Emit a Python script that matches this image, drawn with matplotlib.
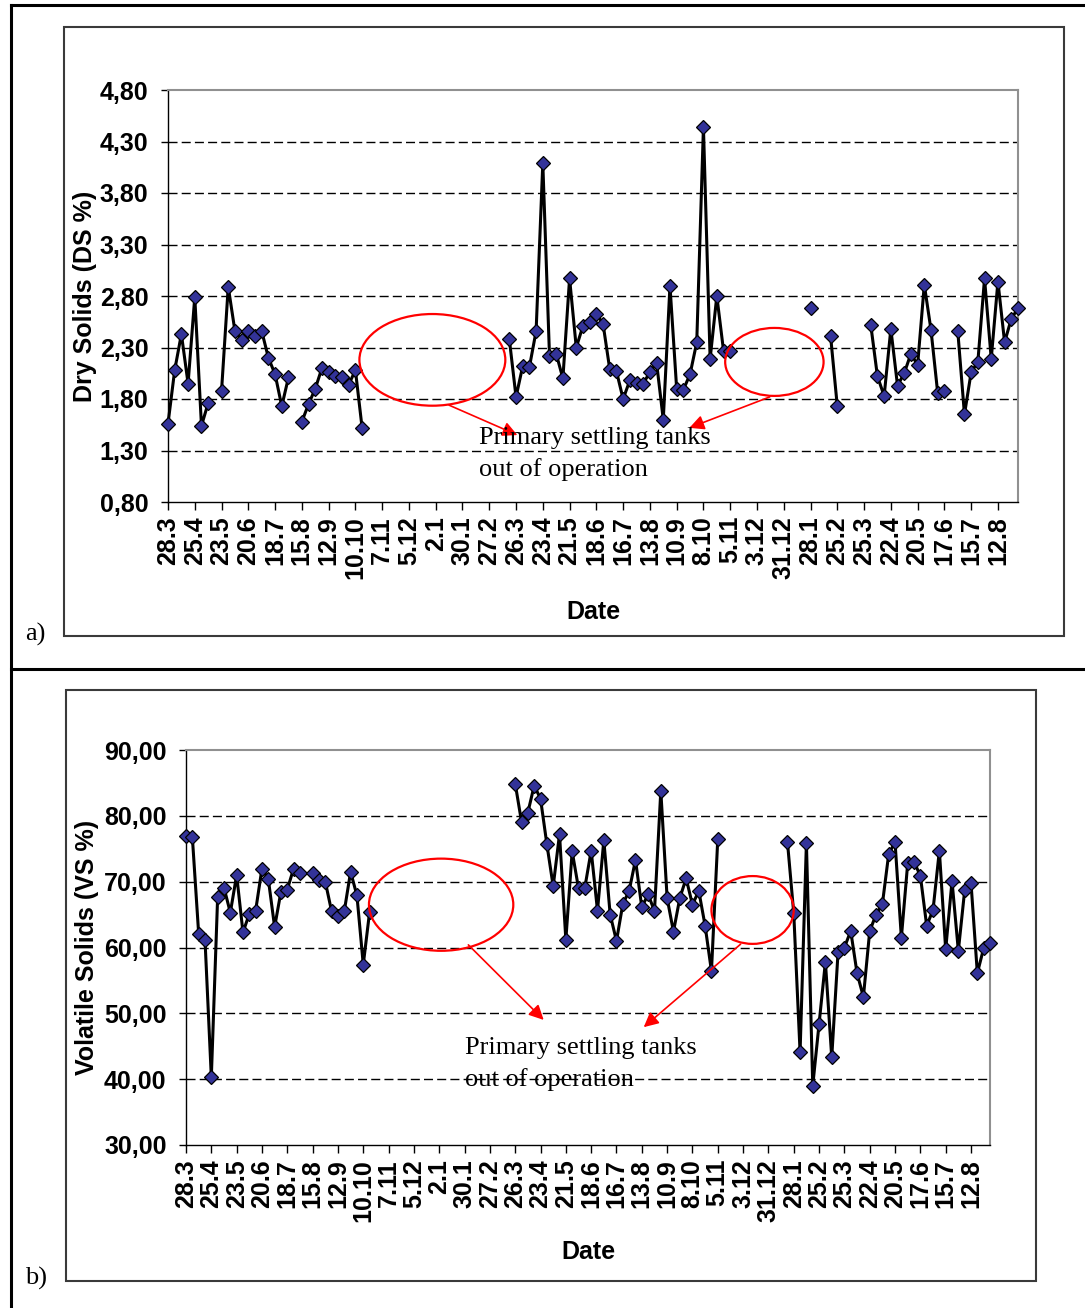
import numpy as np
import matplotlib
matplotlib.use("Agg")
import matplotlib.pyplot as plt
from matplotlib.patches import Ellipse, Rectangle
from matplotlib.lines import Line2D

nan = np.nan

# date labels, one every 4 weekly samples
date_labels = ["28.3", "25.4", "23.5", "20.6", "18.7", "15.8", "12.9", "10.10",
               "7.11", "5.12", "2.1", "30.1", "27.2", "26.3", "23.4", "21.5",
               "18.6", "16.7", "13.8", "10.9", "8.10", "5.11", "3.12", "31.12",
               "28.1", "25.2", "25.3", "22.4", "20.5", "17.6", "15.7", "12.8"]

# dry solids (DS %), weekly, nan = no sample
ds_values = [1.56, 2.08, 2.43, 1.95, 2.79, 1.54, 1.76, nan,
             1.88, 2.89, 2.46, 2.37, 2.46, 2.41, 2.46, 2.20,
             2.04, 1.73, 2.01, nan, 1.58, 1.75, 1.90, 2.10,
             2.06, 2.02, 2.01, 1.94, 2.08, 1.52, nan, nan,
             nan, nan, nan, nan, nan, nan, nan, nan,
             nan, nan, nan, nan, nan, nan, nan, nan,
             nan, nan, nan, 2.38, 1.82, 2.12, 2.11, 2.46,
             4.09, 2.22, 2.24, 2.00, 2.97, 2.30, 2.51, 2.55,
             2.63, 2.53, 2.09, 2.07, 1.80, 1.98, 1.96, 1.95,
             2.06, 2.15, 1.60, 2.90, 1.90, 1.89, 2.04, 2.35,
             4.44, 2.19, 2.80, 2.27, 2.27, nan, nan, nan,
             nan, nan, nan, nan, nan, nan, nan, nan,
             2.68, nan, nan, 2.41, 1.73, nan, nan, nan,
             nan, 2.52, 2.02, 1.83, 2.48, 1.93, 2.05, 2.24,
             2.13, 2.91, 2.47, 1.86, 1.88, nan, 2.46, 1.65,
             2.06, 2.16, 2.97, 2.19, 2.94, 2.35, 2.58, 2.68]

# volatile solids (VS %)
vs_values = [77.0, 76.8, 62.1, 61.2, 40.3, 67.7, 69.1, 65.3,
             71.0, 62.3, 65.1, 65.6, 72.0, 70.4, 63.1, 68.5,
             68.8, 72.0, 71.3, nan, 71.3, 70.3, 70.0, 65.5,
             64.8, 65.5, 71.5, 67.9, 57.4, 65.4, nan, nan,
             nan, nan, nan, nan, nan, nan, nan, nan,
             nan, nan, nan, nan, nan, nan, nan, nan,
             nan, nan, nan, nan, 84.9, 79.1, 80.5, 84.6,
             82.6, 75.7, 69.3, 77.2, 61.2, 74.6, 69.0, 69.1,
             74.7, 65.6, 76.3, 65.0, 61.0, 66.6, 68.6, 73.3,
             66.1, 68.1, 65.5, 83.8, 67.5, 62.4, 67.5, 70.5,
             66.5, 68.6, 63.3, 56.4, 76.5, nan, nan, nan,
             nan, nan, nan, nan, nan, nan, nan, 76.1,
             65.2, 44.1, 75.9, 39.0, 48.4, 57.8, 43.3, 59.3,
             60.0, 62.5, 56.1, 52.5, 62.5, 65.0, 66.6, 74.2,
             76.0, 61.5, 72.8, 73.0, 70.9, 63.3, 65.7, 74.7,
             59.7, 70.1, 59.5, 68.7, 69.8, 56.1, 59.9, 60.7]

ds_ticks = [0.8, 1.3, 1.8, 2.3, 2.8, 3.3, 3.8, 4.3, 4.8]
ds_ticklabels = ["0,80", "1,30", "1,80", "2,30", "2,80", "3,30", "3,80", "4,30", "4,80"]
vs_ticks = [30, 40, 50, 60, 70, 80, 90]
vs_ticklabels = ["30,00", "40,00", "50,00", "60,00", "70,00", "80,00", "90,00"]

note = "Primary settling tanks\nout of operation"

W, H = 1085, 1308
fig = plt.figure(figsize=(W / 100, H / 100), dpi=100)
fig.patch.set_facecolor("white")

SANS = "Liberation Sans"
SERIF = "Liberation Serif"
FS = 18


def px_box(left, top, right, bottom):
    return [left / W, 1 - bottom / H, (right - left) / W, (bottom - top) / H]


def fig_line(x0, y0, x1, y1, lw):
    fig.add_artist(Line2D([x0 / W, x1 / W], [1 - y0 / H, 1 - y1 / H],
                          transform=fig.transFigure, color="black", lw=lw))


def fig_rect(left, top, right, bottom):
    fig.add_artist(Rectangle((left / W, 1 - bottom / H), (right - left) / W,
                             (bottom - top) / H, transform=fig.transFigure,
                             fill=False, edgecolor="#3a3a3a", lw=1.5))


# outer table frame
fig_line(11, 5, 1085, 5, 2.2)
fig_line(11, 5, 11, 1308, 2.2)
fig_line(11, 669, 1085, 669, 2.2)
# chart area frames
fig_rect(64, 27, 1064, 636)
fig_rect(66, 690, 1036, 1281)

fig.text(25 / W, 1 - 634 / H, "a)", family=SERIF, fontsize=19, ha="left", va="center")
fig.text(25 / W, 1 - 1278 / H, "b)", family=SERIF, fontsize=19, ha="left", va="center")


def draw_panel(ax, values, yticks, yticklabels, ylabel, ylab_x, date_y):
    x = np.arange(len(values))
    ax.plot(x, values, color="black", lw=2.2, marker="D", markersize=7,
            markerfacecolor="#333399", markeredgecolor="black", markeredgewidth=0.9,
            zorder=3, clip_on=False)
    ax.set_xlim(0, len(values) - 1)
    ax.set_ylim(yticks[0], yticks[-1])
    ax.set_yticks(yticks)
    ax.set_yticklabels(yticklabels, family=SANS, fontweight="bold", fontsize=FS)
    ax.set_xticks(np.arange(0, len(values), 4))
    ax.set_xticklabels(date_labels, rotation=90, family=SANS, fontweight="bold", fontsize=FS)
    ax.tick_params(axis="y", length=5, width=1, pad=9, direction="out")
    ax.tick_params(axis="x", length=6, width=1, pad=4, direction="out")
    for yv in yticks[1:-1]:
        ax.axhline(yv, color="black", lw=1, dashes=(6.5, 3), zorder=1)
    for side in ("left", "bottom"):
        ax.spines[side].set_color("black")
        ax.spines[side].set_linewidth(1)
    for side in ("top", "right"):
        ax.spines[side].set_color("#909090")
        ax.spines[side].set_linewidth(1.5)
    ax.set_ylabel(ylabel, family=SANS, fontweight="bold", fontsize=FS)
    ax.yaxis.set_label_coords(ylab_x, 0.5)
    ax.set_xlabel("Date", family=SANS, fontweight="bold", fontsize=FS)
    ax.xaxis.set_label_coords(0.5, date_y)


def annotate_gap(ax, e1, e2, a1, a2, text_xy):
    for (cx, cy, w, h) in (e1, e2):
        ax.add_patch(Ellipse((cx, cy), w, h, fill=False, edgecolor="red", lw=1.6, zorder=4))
    for (x0, y0, x1, y1) in (a1, a2):
        ax.annotate("", xy=(x1, y1), xytext=(x0, y0),
                    arrowprops=dict(arrowstyle="-|>", color="red", lw=1.2,
                                    mutation_scale=22, shrinkA=0, shrinkB=0), zorder=4)
    ax.text(text_xy[0], text_xy[1], note, family=SERIF, fontsize=19, ha="left",
            va="center", linespacing=1.5, zorder=5)


ax1 = fig.add_axes(px_box(168, 90, 1018, 502))
draw_panel(ax1, ds_values, ds_ticks, ds_ticklabels, "Dry Solids (DS %)", -0.084, -0.238)
annotate_gap(ax1,
             (39.5, 2.18, 21.8, 0.89), (90.6, 2.16, 14.7, 0.66),
             (42.0, 1.74, 52.2, 1.45), (89.9, 1.82, 77.9, 1.52),
             (46.5, 1.27))

ax2 = fig.add_axes(px_box(186, 750, 990, 1145))
draw_panel(ax2, vs_values, vs_ticks, vs_ticklabels, "Volatile Solids (VS %)", -0.108, -0.24)
annotate_gap(ax2,
             (40.3, 66.5, 22.8, 14.0), (89.5, 65.7, 13.0, 10.3),
             (44.6, 60.4, 56.5, 49.0), (87.6, 60.5, 72.3, 47.9),
             (44.0, 42.3))

fig.savefig("out.png", dpi=100)
